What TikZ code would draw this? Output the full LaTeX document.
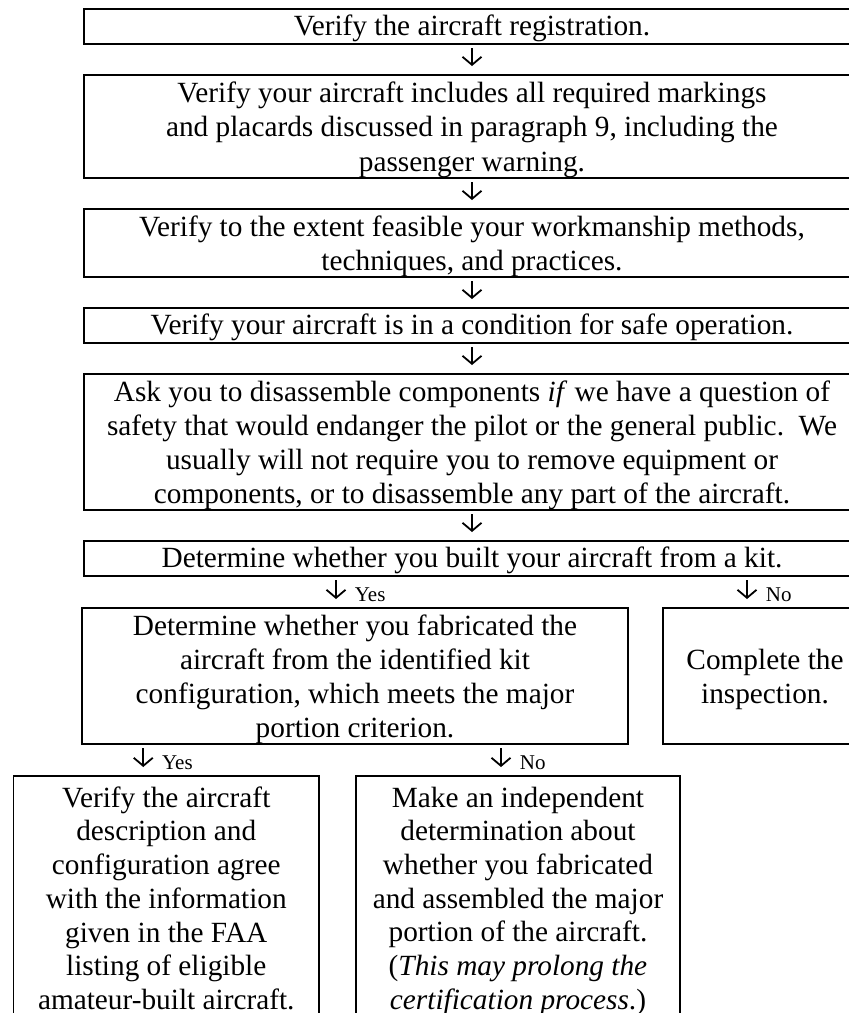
\documentclass[tikz,border=0pt]{standalone}
\usepackage{fontspec}
\setmainfont{Liberation Serif}
\usetikzlibrary{positioning,arrows.meta,calc}
\tikzset{
    check box/.style = {
        draw,
        line width=1.8pt,
        inner sep=0pt,
        outer sep=0pt,
        align=center,
        text depth=-4pt,
        font=\fontsize{29.3}{34.2}\selectfont,
        },
    wide box/.style = {
        check box,
        minimum width=776pt,
        },
    line box/.style = {
        wide box,
        minimum height=35pt,
        text depth=2pt,
        },
    tall box/.style = {
        check box,
        minimum height=244pt,
        text depth=0pt,
        font=\fontsize{29.3}{33.7}\selectfont,
        },
    flow arrow/.style = {
        -{Straight Barb[length=8pt,width=19pt]},
        line width=1.8pt,
        shorten <=4pt,
        shorten >=9pt,
        },
    answer/.style = {
        font=\fontsize{21}{24}\selectfont,
        inner sep=0pt,
        right=18pt,
        pos=0.58,
        },
}
\begin{document}
\begin{tikzpicture}[x=1pt,y=-1pt]
            \useasboundingbox (0,0) rectangle (849,1013);
            \clip (0,0) rectangle (849,1013);

            \node[line box] (reg) at (472,26.5) {Verify the aircraft registration.};
            \node[wide box, minimum height=103pt, below=31pt of reg] (mark) {Verify your aircraft includes all required markings\\ and placards discussed in paragraph 9, including the\\ passenger warning.};
            \node[wide box, minimum height=68pt, below=31pt of mark] (work) {Verify to the extent feasible your workmanship methods,\\ techniques, and practices.};
            \node[line box, below=31pt of work] (safe) {Verify your aircraft is in a condition for safe operation.};
            \node[wide box, minimum height=136pt, below=31pt of safe] (ask) {Ask you to disassemble components \textit{if} we have a question of\\ safety that would endanger the pilot or the general public.\ \ We\\ usually will not require you to remove equipment or\\ components, or to disassemble any part of the aircraft.};
            \node[line box, below=31pt of ask] (kit) {Determine whether you built your aircraft from a kit.};

            % kit branch
            \node[check box, minimum width=546pt, minimum height=136pt, below right=32pt and -2pt of kit.south west] (fab) {Determine whether you fabricated the\\ aircraft from the identified kit\\ configuration, which meets the major\\ portion criterion.};
            \node[check box, minimum width=204pt, minimum height=136pt, right=35pt of fab] (done) {Complete the\\ inspection.};

            % major portion branch
            \node[tall box, minimum width=305.5pt, below right=32pt and -68.5pt of fab.south west] (agree) {Verify the aircraft\\ description and\\ configuration agree\\ with the information\\ given in the FAA\\ listing of eligible\\ amateur-built aircraft.};
            \node[tall box, minimum width=324pt, right=37pt of agree] (indep) {Make an independent\\ determination about\\ whether you fabricated\\ and assembled the major\\ portion of the aircraft.\\ (\textit{This may prolong the}\\ \textit{certification process}.)};

            \draw[flow arrow] (reg) -- (mark);
            \draw[flow arrow] (mark) -- (work);
            \draw[flow arrow] (work) -- (safe);
            \draw[flow arrow] (safe) -- (ask);
            \draw[flow arrow] (ask) -- (kit);

            \coordinate (yes a) at ($(fab.north)+(-19,0)$);
            \coordinate (no a) at ($(done.north)+(-18,0)$);
            \coordinate (yes b) at ($(agree.north)+(-23,0)$);
            \coordinate (no b) at ($(indep.north)+(-17,0)$);

            \draw[flow arrow] (yes a |- kit.south) -- (yes a |- fab.north) node[answer] {Yes};
            \draw[flow arrow] (no a |- kit.south) -- (no a |- done.north) node[answer] {No};
            \draw[flow arrow] (yes b |- fab.south) -- (yes b |- agree.north) node[answer] {Yes};
            \draw[flow arrow] (no b |- fab.south) -- (no b |- indep.north) node[answer] {No};
\end{tikzpicture}
\end{document}
